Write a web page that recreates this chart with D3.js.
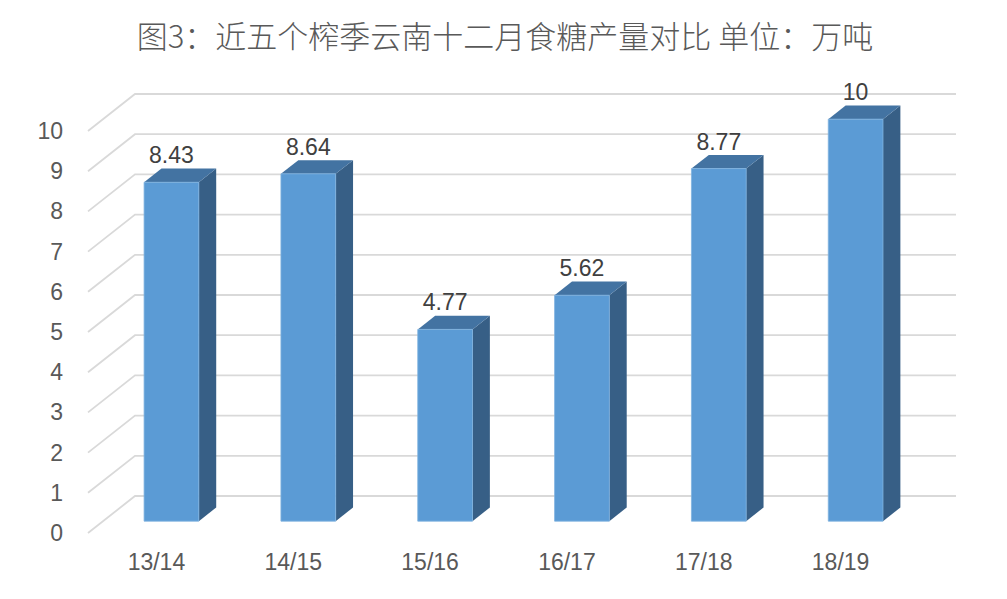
<!DOCTYPE html>
<meta charset="utf-8">
<script src="https://d3js.org/d3.v7.min.js"></script>
<title>近五个榨季云南十二月食糖产量对比</title>
<style>
    body { margin: 0; background: #fff; }
    text { font-family: "Liberation Sans", Arial, sans-serif; }
</style>
<div id="my_dataviz"></div>
<script>
    // data
    const seasons = ["13/14", "14/15", "15/16", "16/17", "17/18", "18/19"];
    const output = [8.43, 8.64, 4.77, 5.62, 8.77, 10];
    const yTicks = [0, 1, 2, 3, 4, 5, 6, 7, 8, 9, 10];

    const W = 1007, H = 599;
    // back wall of the 3D box
    const back = {left: 135, right: 956, top: 94, bottom: 496};
    // depth vector: how far the front edge sits from the back wall
    const DX = -47, DY = 37;
    const zBack = 0.31, zFront = 0.68;

    const svg = d3.select("#my_dataviz")
        .append("svg")
        .attr("width", W)
        .attr("height", H);

    const x = d3.scaleBand()
        .domain(seasons)
        .range([back.left, back.right]);

    const y = d3.scaleLinear()
        .domain([0, 10])
        .range([back.bottom, back.top]);

    const proj = (px, v, z) => [px + z * DX, y(v) + z * DY];

    // title
    svg.append("text")
        .attr("x", 505)
        .attr("y", 48)
        .attr("text-anchor", "middle")
        .style("font-family", "'Noto Sans CJK SC', sans-serif")
        .style("font-size", "31px")
        .style("font-weight", 300)
        .style("fill", "#595959")
        .text("图3：近五个榨季云南十二月食糖产量对比 单位：万吨");

    // gridlines: back wall + side wall diagonal
    const grid = svg.append("g")
        .attr("stroke", "#d9d9d9")
        .attr("stroke-width", 1.8)
        .attr("fill", "none");

    grid.selectAll("path")
        .data(yTicks)
        .join("path")
        .attr("d", v => {
            const a = proj(back.left, v, 1), b = proj(back.left, v, 0), c = proj(back.right, v, 0);
            return `M${a}L${b}L${c}`;
        });

    // y tick labels
    svg.append("g")
        .selectAll("text")
        .data(yTicks)
        .join("text")
        .attr("x", 63)
        .attr("y", v => y(v) + DY)
        .attr("dy", "0.35em")
        .attr("text-anchor", "end")
        .style("font-size", "23px")
        .style("fill", "#595959")
        .text(v => v);

    // category labels under the front edge
    svg.append("g")
        .selectAll("text")
        .data(seasons)
        .join("text")
        .attr("x", d => x(d) + x.bandwidth() / 2 + DX)
        .attr("y", 570)
        .attr("text-anchor", "middle")
        .style("font-size", "23px")
        .style("fill", "#595959")
        .text(d => d);

    // bars
    const barData = seasons.map((s, i) => ({season: s, value: output[i]}));
    const bw = x.bandwidth();

    const bars = svg.append("g")
        .selectAll("g")
        .data(barData)
        .join("g");

    const poly = pts => "M" + pts.map(p => p.join(",")).join("L") + "Z";

    bars.append("path")  // right side
        .attr("fill", "#375f86")
        .attr("d", d => {
            const x1 = x(d.season) + bw * 0.7;
            return poly([proj(x1, 0, zFront), proj(x1, d.value, zFront), proj(x1, d.value, zBack), proj(x1, 0, zBack)]);
        });

    bars.append("path")  // top
        .attr("fill", "#4373a2")
        .attr("d", d => {
            const x0 = x(d.season) + bw * 0.3, x1 = x(d.season) + bw * 0.7;
            return poly([proj(x0, d.value, zFront), proj(x1, d.value, zFront), proj(x1, d.value, zBack), proj(x0, d.value, zBack)]);
        });

    bars.append("path")  // front
        .attr("fill", "#5b9bd5")
        .attr("stroke", "#7fb2e0")
        .attr("stroke-width", 0.8)
        .attr("d", d => {
            const x0 = x(d.season) + bw * 0.3, x1 = x(d.season) + bw * 0.7;
            return poly([proj(x0, 0, zFront), proj(x0, d.value, zFront), proj(x1, d.value, zFront), proj(x1, 0, zFront)]);
        });

    // value labels
    bars.append("text")
        .attr("x", d => x(d.season) + bw / 2 + zFront * DX)
        .attr("y", d => y(d.value) + zFront * DY - 19)
        .attr("text-anchor", "middle")
        .style("font-size", "23px")
        .style("fill", "#404040")
        .text(d => d.value);
</script>
